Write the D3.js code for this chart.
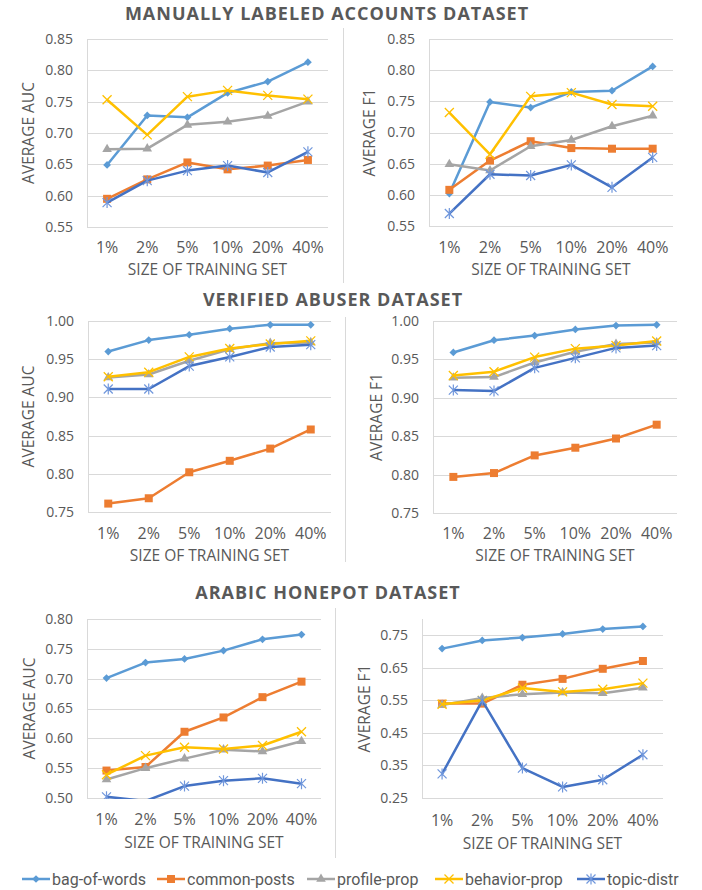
<!DOCTYPE html>
<html>
<head>
<meta charset="utf-8">
<script src="https://cdn.jsdelivr.net/npm/d3@7"></script>
<style>
  body { margin: 0; background: #fff; }
  svg text { font-family: "Open Sans", "Noto Sans", sans-serif; fill: #595959; }
</style>
</head>
<body>
<svg id="chart" width="702" height="890"></svg>
<script>
// categories and series
var categories = ["1%", "2%", "5%", "10%", "20%", "40%"];
var seriesNames = ["bag-of-words", "common-posts", "profile-prop", "behavior-prop", "topic-distr"];

// values, one row per series (same order as seriesNames)
var manualAuc = [
  [0.649, 0.728, 0.725, 0.764, 0.782, 0.813],
  [0.595, 0.626, 0.653, 0.642, 0.648, 0.657],
  [0.674, 0.675, 0.713, 0.718, 0.727, 0.750],
  [0.753, 0.697, 0.758, 0.768, 0.760, 0.754],
  [0.589, 0.624, 0.640, 0.648, 0.637, 0.670]
];
var manualF1 = [
  [0.602, 0.749, 0.740, 0.765, 0.767, 0.806],
  [0.608, 0.655, 0.686, 0.675, 0.674, 0.674],
  [0.649, 0.639, 0.678, 0.688, 0.710, 0.727],
  [0.732, 0.665, 0.758, 0.764, 0.745, 0.742],
  [0.570, 0.633, 0.631, 0.648, 0.612, 0.660]
];
var verifiedAuc = [
  [0.960, 0.975, 0.982, 0.990, 0.995, 0.995],
  [0.761, 0.768, 0.802, 0.817, 0.833, 0.858],
  [0.926, 0.930, 0.948, 0.963, 0.971, 0.972],
  [0.927, 0.933, 0.953, 0.964, 0.970, 0.974],
  [0.911, 0.911, 0.941, 0.953, 0.966, 0.969]
];
var verifiedF1 = [
  [0.959, 0.975, 0.981, 0.989, 0.994, 0.995],
  [0.797, 0.802, 0.825, 0.835, 0.847, 0.865],
  [0.926, 0.927, 0.946, 0.960, 0.970, 0.972],
  [0.929, 0.934, 0.953, 0.964, 0.968, 0.974],
  [0.910, 0.909, 0.939, 0.952, 0.965, 0.968]
];
var arabicAuc = [
  [0.701, 0.727, 0.733, 0.747, 0.766, 0.774],
  [0.546, 0.552, 0.611, 0.635, 0.669, 0.695],
  [0.531, 0.550, 0.566, 0.581, 0.578, 0.595],
  [0.539, 0.571, 0.585, 0.582, 0.588, 0.611],
  [0.502, 0.495, 0.520, 0.529, 0.533, 0.524]
];
var arabicF1 = [
  [0.709, 0.734, 0.743, 0.754, 0.769, 0.777],
  [0.540, 0.540, 0.598, 0.616, 0.647, 0.671],
  [0.536, 0.557, 0.569, 0.574, 0.572, 0.589],
  [0.538, 0.550, 0.588, 0.576, 0.584, 0.603],
  [0.324, 0.549, 0.342, 0.284, 0.306, 0.383]
];

// tick labels
var ticksManual = [0.55, 0.60, 0.65, 0.70, 0.75, 0.80, 0.85];
var ticksVerified = [0.75, 0.80, 0.85, 0.90, 0.95, 1.00];
var ticksArabicAuc = [0.50, 0.55, 0.60, 0.65, 0.70, 0.75, 0.80];
var ticksArabicF1 = [0.25, 0.35, 0.45, 0.55, 0.65, 0.75];

var titles = ["MANUALLY LABELED ACCOUNTS DATASET", "VERIFIED ABUSER DATASET", "ARABIC HONEPOT DATASET"];

// styles
var colors = ["#5B9BD5", "#ED7D31", "#A5A5A5", "#FFC000", "#4472C4"];
var gridColor = "#d9d9d9";

var svg = d3.select("#chart");

// panel layout (pixel boxes)
var panels = [
  { data: manualAuc, ticks: ticksManual, domain: [0.55, 0.85], yTitle: "AVERAGE AUC",
    left: 87, right: 328, top: 39, bottom: 227, yTitleX: 29, xLabelY: 253, xTitleY: 275 },
  { data: manualF1, ticks: ticksManual, domain: [0.55, 0.85], yTitle: "AVERAGE F1",
    left: 429, right: 673, top: 39, bottom: 226, yTitleX: 370, xLabelY: 253, xTitleY: 275 },
  { data: verifiedAuc, ticks: ticksVerified, domain: [0.75, 1.00], yTitle: "AVERAGE AUC",
    left: 88, right: 331, top: 321, bottom: 512, yTitleX: 29, xLabelY: 539, xTitleY: 561 },
  { data: verifiedF1, ticks: ticksVerified, domain: [0.75, 1.00], yTitle: "AVERAGE F1",
    left: 433, right: 677, top: 321, bottom: 513, yTitleX: 377, xLabelY: 539, xTitleY: 561 },
  { data: arabicAuc, ticks: ticksArabicAuc, domain: [0.50, 0.80], yTitle: "AVERAGE AUC",
    left: 87, right: 321, top: 619, bottom: 798, yTitleX: 30, xLabelY: 825, xTitleY: 848 },
  { data: arabicF1, ticks: ticksArabicF1, domain: [0.25, 0.80], yTitle: "AVERAGE F1",
    left: 422, right: 663, top: 619, bottom: 798, yTitleX: 365, xLabelY: 826, xTitleY: 849 }
];

// marker shapes
function drawMarker(g, i, color) {
  if (i === 0) {
    g.append("path").attr("d", d3.symbol(d3.symbolSquare, 30)())
      .attr("transform", "rotate(45)").attr("fill", color);
  } else if (i === 1) {
    g.append("path").attr("d", d3.symbol(d3.symbolSquare, 64)()).attr("fill", color);
  } else if (i === 2) {
    g.append("path").attr("d", d3.symbol(d3.symbolTriangle, 40)()).attr("fill", color);
  } else if (i === 3) {
    g.append("path").attr("d", "M-4.5,-4.5L4.5,4.5M-4.5,4.5L4.5,-4.5")
      .attr("stroke", color).attr("stroke-width", 1.3).attr("fill", "none");
  } else {
    g.append("path").attr("d", "M-4.5,-4.5L4.5,4.5M-4.5,4.5L4.5,-4.5M0,-5.5L0,5.5")
      .attr("stroke", "#7097dc").attr("stroke-width", 1.2).attr("fill", "none");
  }
}

panels.forEach(function (p, pi) {
  var x = d3.scalePoint().domain(categories).range([p.left, p.right]).padding(0.5);
  var y = d3.scaleLinear().domain(p.domain).range([p.bottom, p.top]);

  var g = svg.append("g");

  // gridlines
  g.selectAll(".grid").data(p.ticks).enter().append("line")
    .attr("x1", p.left).attr("x2", p.right)
    .attr("y1", function (d) { return Math.round(y(d)) + 0.5; })
    .attr("y2", function (d) { return Math.round(y(d)) + 0.5; })
    .attr("stroke", gridColor).attr("stroke-width", 1);
  // left axis line
  g.append("line")
    .attr("x1", p.left + 0.5).attr("x2", p.left + 0.5)
    .attr("y1", p.top).attr("y2", Math.round(y(p.domain[0])) + 0.5)
    .attr("stroke", gridColor);

  // y tick labels
  g.selectAll(".ytick").data(p.ticks).enter().append("text")
    .attr("x", p.left - 14).attr("y", function (d) { return y(d); })
    .attr("dy", "0.35em").attr("text-anchor", "end")
    .style("font-size", "14px")
    .text(function (d) { return d3.format(".2f")(d); });

  // x tick labels
  g.selectAll(".xtick").data(categories).enter().append("text")
    .attr("x", function (d) { return x(d); }).attr("y", p.xLabelY)
    .attr("text-anchor", "middle").style("font-size", "16px")
    .text(function (d) { return d; });

  // axis titles
  g.append("text")
    .attr("x", (p.left + p.right) / 2).attr("y", p.xTitleY)
    .attr("text-anchor", "middle").style("font-size", "15.5px")
    .text("SIZE OF TRAINING SET");
  g.append("text")
    .attr("transform", "translate(" + p.yTitleX + "," + ((p.top + p.bottom) / 2) + ") rotate(-90)")
    .attr("dy", "0.35em").attr("text-anchor", "middle").style("font-size", "15.5px")
    .text(p.yTitle);

  // clip lines to plot area
  var clipId = "clip" + pi;
  g.append("clipPath").attr("id", clipId).append("rect")
    .attr("x", p.left - 8).attr("y", p.top - 8)
    .attr("width", p.right - p.left + 16).attr("height", p.bottom - p.top + 9);

  var lines = g.append("g").attr("clip-path", "url(#" + clipId + ")");
  var marks = g.append("g");
  var line = d3.line()
    .x(function (d, i) { return x(categories[i]); })
    .y(function (d) { return y(d); });

  p.data.forEach(function (vals, si) {
    var sg = lines.append("g");
    sg.append("path").datum(vals)
      .attr("d", line).attr("fill", "none")
      .attr("stroke", colors[si]).attr("stroke-width", 2.5)
      .attr("stroke-linejoin", "round");
    vals.forEach(function (v, ci) {
      if (v < p.domain[0]) return;
      var m = sg.append("g")
        .attr("transform", "translate(" + x(categories[ci]) + "," + y(v) + ")");
      drawMarker(m, si, colors[si]);
    });
  });
});

// row titles
var titleY = [20, 306, 599];
var titleX = [327, 333, 328];
titles.forEach(function (t, i) {
  svg.append("text").attr("x", titleX[i]).attr("y", titleY[i])
    .attr("text-anchor", "middle")
    .style("font-size", "18px").style("font-weight", "bold")
    .style("letter-spacing", "1px")
    .text(t);
});

// separators
var seps = [[343, 28, 283], [345, 317, 562], [335, 608, 858]];
seps.forEach(function (s) {
  svg.append("line").attr("x1", s[0] + 0.5).attr("x2", s[0] + 0.5)
    .attr("y1", s[1]).attr("y2", s[2]).attr("stroke", gridColor);
});

// legend
var legendX = [22, 157, 307, 435, 577];
var legendY = 879;
seriesNames.forEach(function (name, i) {
  var lg = svg.append("g").attr("transform", "translate(" + legendX[i] + "," + legendY + ")");
  lg.append("line").attr("x1", 0).attr("x2", 28).attr("y1", 0).attr("y2", 0)
    .attr("stroke", colors[i]).attr("stroke-width", 2.5);
  drawMarker(lg.append("g").attr("transform", "translate(14,0)"), i, colors[i]);
  lg.append("text").attr("x", 30).attr("y", 0).attr("dy", "0.35em")
    .style("font-family", "'Liberation Sans Narrow', 'Roboto', sans-serif")
    .style("font-size", "16px")
    .text(name);
});
</script>
</body>
</html>
